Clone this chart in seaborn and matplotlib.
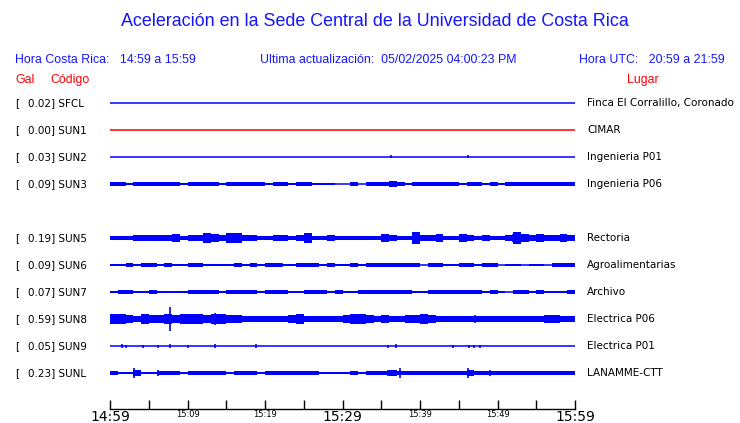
import numpy as np
import pandas as pd
import matplotlib
matplotlib.use("Agg")
import matplotlib.pyplot as plt
import seaborn as sns

# station table
stations = ["SFCL", "SUN1", "SUN2", "SUN3", "SUN5", "SUN6", "SUN7", "SUN8", "SUN9", "SUNL"]
slots = [0, 1, 2, 3, 5, 6, 7, 8, 9, 10]          # SUN4 slot is empty
pga = [0.02, 0.00, 0.03, 0.09, 0.19, 0.09, 0.07, 0.59, 0.05, 0.23]
places = ["Finca El Corralillo, Coronado", "CIMAR", "Ingenieria P01", "Ingenieria P06",
          "Rectoria", "Agroalimentarias", "Archivo", "Electrica P06", "Electrica P01",
          "LANAMME-CTT"]
trace_colors = ["#0000ff", "#ff0000", "#0000ff", "#0000ff", "#0000ff",
                "#0000ff", "#0000ff", "#0000ff", "#0000ff", "#0000ff"]

# minutes after 14:59
tick_minutes = [0, 5, 10, 15, 20, 25, 30, 35, 40, 45, 50, 55, 60]
tick_labels = ["14:59", "", "15:09", "", "15:19", "", "15:29", "", "15:39", "", "15:49", "", "15:59"]

# envelope half-amplitude per minute (screen units)
env = {
    "SFCL": [0] * 60,
    "SUN1": [0] * 60,
    "SUN2": [0] * 60,
    "SUN3": [1, 1, 0.5, 1.5, 1.5, 1.5, 1.5, 1.5, 1, 0.5, 1, 1, 1, 1, 0.5, 1, 1.5, 1.5, 1, 1.5,
             0.5, 1, 1, 0.5, 1.5, 1.5, 0.5, 0.5, 0.5, 0, 0, 1, 0, 1, 1.5, 1.5, 2, 1, 0.5, 1,
             1.5, 1, 1.5, 1.5, 1, 0.5, 1, 1, 0.5, 1, 0.5, 1.5, 1.5, 1.5, 1.5, 1.5, 1, 1.5, 1, 1],
    "SUN5": [1.5, 1.5, 1.5, 2, 2, 2, 2, 2, 2.5, 1.5, 2, 2, 3, 2.5, 2, 3, 3, 2, 2, 1.5,
             1.5, 2, 2, 1.5, 2, 3, 1.5, 1.5, 2, 1.5, 1.5, 1.5, 1.5, 1.5, 1.5, 2.5, 2, 1.5, 1.5, 3.5,
             2, 2, 2.5, 1.5, 1.5, 2.5, 2, 1.5, 2, 1.5, 1.5, 2, 3.5, 2.5, 2, 2.5, 2, 2, 2.5, 2],
    "SUN6": [0.5, 0.5, 1, 0.5, 1.5, 1, 0.5, 1, 0.5, 0.5, 1, 1, 0.5, 0.5, 0.5, 0.5, 1, 0.5, 1, 0.5,
             1, 1.5, 0.5, 0.5, 1, 1, 1.5, 0.5, 1, 0.5, 0.5, 1, 0.5, 1, 1, 1, 1, 1, 1, 1,
             0, 1, 1, 0.5, 0.5, 1, 1, 0.5, 1, 1, 0, 0.5, 0.5, 0, 0.5, 0.5, 0, 1.5, 1.5, 1],
    "SUN7": [0.5, 1, 1.5, 0.5, 0.5, 1, 0.5, 0.5, 0.5, 0.5, 1, 1.5, 1, 1, 0.5, 1, 1, 1, 1, 0.5,
             1, 1, 1, 0.5, 0.5, 1, 1, 1, 0.5, 1, 0.5, 0.5, 1, 1, 1, 1, 1, 1, 1, 0.5,
             0.5, 1, 1, 1, 1, 1, 1, 1, 0.5, 1, 0.5, 0, 1, 1, 0.5, 1, 0.5, 0.5, 0.5, 1],
    "SUN8": [3, 3, 2.5, 2, 3, 2.5, 2.5, 3, 2.5, 3, 3, 3, 2.5, 3, 3, 2.5, 2.5, 2, 2, 2,
             2, 2, 2, 2.5, 3, 2, 2, 2, 2, 2, 2.5, 3, 3, 2.5, 2, 2.5, 2, 2, 2.5, 2.5,
             3, 2.5, 2, 2, 2, 2, 2, 2, 2, 2, 2, 2, 2, 2, 2, 2, 2.5, 2.5, 2, 2],
    "SUN9": [0] * 60,
    "SUNL": [1, 0.5, 0.5, 2, 0.5, 0.5, 1.5, 1.5, 1, 0.5, 1, 1, 1, 1, 1, 0.5, 1.5, 1.5, 1, 0.5,
             1, 1, 1.5, 1.5, 1.5, 1.5, 1, 0.5, 0.5, 0.5, 0.5, 1, 0.5, 1, 1, 1, 2, 1.5, 1, 1,
             1.5, 1, 1.5, 1.5, 1.5, 1, 2, 1.5, 1, 1.5, 1, 1, 1, 1, 1, 1.5, 1, 1, 1, 1.5],
}

# isolated peaks: (minute, half-amplitude)
spikes = {
    "SUN2": [(36.3, 1.5), (46.2, 1.5)],
    "SUN3": [(36.8, 2)],
    "SUN5": [(16.3, 3), (39.3, 4), (52.0, 4)],
    "SUN6": [(22.2, 2), (26.5, 2)],
    "SUN8": [(1.4, 3.5), (7.7, 12), (9.9, 5), (13.5, 6), (40.6, 4), (47.1, 4), (56.8, 3)],
    "SUN9": [(1.5, 2), (2.1, 1.5), (4.2, 1.5), (6.2, 1.5), (7.8, 2), (10.0, 1.5), (13.5, 2),
             (18.8, 2), (35.9, 1.5), (36.9, 2), (44.2, 1.5), (46.3, 1.5), (47.0, 1.5), (47.7, 1.5)],
    "SUNL": [(3.1, 5), (6.2, 3), (35.9, 3), (37.4, 5), (46.2, 5), (49.0, 3)],
}

W, H = 740, 423
ROW = 27.0          # pixels per slot
scale = 1.0 / ROW   # screen units -> slot units
gain = 1.6          # display gain for the noise band

sns.set_theme(style="white")
plt.rcParams["font.family"] = ["DejaVu Sans"]

fig = plt.figure(figsize=(W / 100, H / 100), dpi=100)
fig.patch.set_facecolor("white")

# traces area
ax = fig.add_axes([110 / W, (H - 386.5) / H, 465 / W, 297 / H])
ax.set_xlim(0, 60)
ax.set_ylim(10.5, -0.5)
ax.axis("off")

base = pd.DataFrame({
    "t": np.tile([0, 60], len(stations)),
    "y": np.repeat(slots, 2),
    "station": np.repeat(stations, 2),
})
sns.lineplot(data=base, x="t", y="y", hue="station", units="station", estimator=None,
             palette=dict(zip(stations, trace_colors)), linewidth=1.1, legend=False, ax=ax)

edges = np.arange(61)
for st, row, col in zip(stations, slots, trace_colors):
    a = np.array(env[st] + [env[st][-1]], dtype=float) * scale * gain
    if a.max() > 0:
        ax.fill_between(edges, row - a, row + a, step="post", color=col, lw=0)
    for t, h in spikes.get(st, []):
        ax.vlines(t, row - h * scale, row + h * scale, color=col, lw=1.2)

# time axis
tax = fig.add_axes([110 / W, (H - 409) / H, 465 / W, 10 / H])
tax.set_xlim(0, 60)
tax.set_ylim(0, 1)
for s in ["top", "left", "right"]:
    tax.spines[s].set_visible(False)
tax.spines["bottom"].set_color("black")
tax.spines["bottom"].set_linewidth(1.0)
tax.set_yticks([])
tax.set_xticks(tick_minutes)
tax.set_xticklabels(tick_labels)
tax.tick_params(axis="x", bottom=True, direction="in", length=6.5, width=1.0,
                color="black", pad=0.5)
for lab, txt in zip(tax.get_xticklabels(), tick_labels):
    big = txt in ("14:59", "15:29", "15:59")
    lab.set_fontsize(10 if big else 6)
    lab.set_color("black")

# header texts
hdr = ["Liberation Sans", "DejaVu Sans"]
fig.text(375 / W, 1 - 22 / H, "Aceleración en la Sede Central de la Universidad de Costa Rica",
         ha="center", va="center", color="#1515ff", fontsize=12.9, family=hdr)
fig.text(15 / W, 1 - 60 / H, "Hora Costa Rica:   14:59 a 15:59", ha="left", va="center",
         color="#1515ff", fontsize=8.9, family=hdr)
fig.text(260 / W, 1 - 60 / H, "Ultima actualización:  05/02/2025 04:00:23 PM", ha="left",
         va="center", color="#1515ff", fontsize=8.9, family=hdr)
fig.text(725 / W, 1 - 60 / H, "Hora UTC:   20:59 a 21:59", ha="right", va="center",
         color="#1515ff", fontsize=8.9, family=hdr)
fig.text(15 / W, 1 - 80 / H, "Gal", ha="left", va="center", color="red", fontsize=8.9, family=hdr)
fig.text(50 / W, 1 - 80 / H, "Código", ha="left", va="center", color="red", fontsize=8.9, family=hdr)
fig.text(643 / W, 1 - 80 / H, "Lugar", ha="center", va="center", color="red", fontsize=8.9, family=hdr)

for st, row, g, place in zip(stations, slots, pga, places):
    y = 1 - (103 + ROW * row) / H
    fig.text(15 / W, y, "[", ha="left", va="center", fontsize=7.5, color="black")
    fig.text(28 / W, y, f"{g:.2f}] {st}", ha="left", va="center", fontsize=7.5, color="black")
    fig.text(587 / W, y, place, ha="left", va="center", fontsize=7.5, color="black")

fig.savefig("out.png", dpi=100, facecolor="white")
